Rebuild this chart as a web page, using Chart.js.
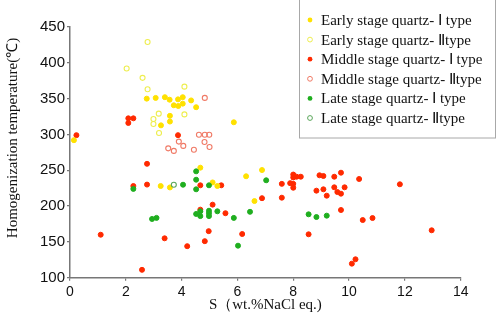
<!DOCTYPE html>
<html><head><meta charset="utf-8">
<script src="https://cdn.jsdelivr.net/npm/chart.js@4"></script>
<style>html,body{margin:0;padding:0;background:#fff}#wrap{width:498px;height:316px;position:relative}</style>
</head><body><div id="wrap"><canvas id="c"></canvas></div>
<script>
const xTicks = [0, 2, 4, 6, 8, 10, 12, 14];
const yTicks = [100, 150, 200, 250, 300, 350, 400, 450];
const xTitle = "S（wt.%NaCl eq.)";
const yTitle = "Homogenization temperature(℃)";
const seriesLabels = [
  "Early stage quartz- Ⅰ type",
  "Early stage quartz- Ⅱtype",
  "Middle stage quartz- Ⅰ type",
  "Middle stage quartz- Ⅱtype",
  "Late stage quartz- Ⅰ type",
  "Late stage quartz- Ⅱtype"
];

const earlyI_S = [2.75,3.07,3.4,3.57,3.87,4.04,3.72,3.88,4.04,4.34,4.52,3.58,3.58,3.26,5.87,0.14,4.67,3.25,3.58,5.11,5.28,6.31,6.61,6.88];
const earlyI_T = [350,351,352,348.5,349,352,340.7,339.7,343,347.5,338,326,318,312.7,317,292,253.6,228,226,233,228,241.6,207,250.3];

const earlyII_S = [2.78,2.03,2.6,2.78,4.1,3.18,2.99,2.99,3.19,4.1];
const earlyII_T = [429,392,379,363,366.7,329,321.5,314.6,302,328];

const middleI_S = [0.23,2.09,2.27,2.09,3.87,2.76,2.27,2.76,4.67,5.42,5.11,4.67,5.57,1.1,3.39,4.2,4.83,4.97,6.17,2.58,6.88,8.0,8.0,8.12,8.27,7.59,7.89,8.0,8.0,7.59,8.94,9.08,9.47,9.71,10.36,11.82,8.83,9.08,9.2,9.47,9.84,9.58,9.71,9.71,10.49,10.84,12.96,8.55,10.23,10.1];
const middleI_T = [299,322.5,322.5,316,299,259,228,230,229,229,202,195,190,160,155,144,151,165,161,111,211,244,240,241,241,231,232,231,225.6,211.7,243,242,241,246.6,237.8,230.4,221.5,223.4,214.5,226.2,226.2,219.6,217.3,194.5,180.5,183.3,166.2,160.6,125.7,119.6];

const middleII_S = [4.83,4.62,4.83,4.99,3.9,4.82,4.06,5.0,3.52,3.72,4.44];
const middleII_T = [351,299.6,299.6,299.6,290,289.5,284,282.5,280.6,277,278.7];

const lateI_S = [4.52,4.52,4.52,2.27,4.05,4.98,4.52,4.67,4.67,4.98,4.98,4.98,5.28,5.87,6.45,2.94,3.1,6.02,7.03,8.55,8.83,9.2];
const lateI_T = [248.5,236.8,223.4,224,229.8,229,189,186,192.7,193.5,190,186,192.7,183.5,192,182,183.5,144.7,236,188.5,184.7,186.6];

const lateII_S = [3.72];
const lateII_T = [229.8];

const pts = (xs, ys) => xs.map((x, i) => ({x: x, y: ys[i]}));

const filled = (label, data, color, order) => ({
  label, data, order,
  pointRadius: 2.5, pointHoverRadius: 2.5, borderWidth: 1,
  backgroundColor: color, borderColor: color, pointStyle: 'circle'
});
const hollow = (label, data, color, order) => ({
  label, data, order,
  pointRadius: 2.5, pointHoverRadius: 2.5, borderWidth: 1.1,
  backgroundColor: 'rgba(255,255,255,0)', borderColor: color, pointStyle: 'circle',
  hollow: true
});

const datasets = [
  filled(seriesLabels[0], pts(earlyI_S, earlyI_T), '#FFE100', 1),
  hollow(seriesLabels[1], pts(earlyII_S, earlyII_T), '#EEEE50', 1),
  filled(seriesLabels[2], pts(middleI_S, middleI_T), '#FF2A00', 2),
  hollow(seriesLabels[3], pts(middleII_S, middleII_T), '#F07A66', 2),
  filled(seriesLabels[4], pts(lateI_S, lateI_T), '#1FAE1F', 0),
  hollow(seriesLabels[5], pts(lateII_S, lateII_T), '#5AA65A', 0)
];

const boxLegend = {
  id: 'boxLegend',
  afterDraw(chart) {
    const ctx = chart.ctx;
    ctx.save();
    ctx.translate(13, 138);
    ctx.rotate(-Math.PI / 2);
    ctx.fillStyle = '#111';
    ctx.font = '15px "Liberation Serif"';
    ctx.textAlign = 'center';
    ctx.textBaseline = 'middle';
    ctx.fillText(yTitle, 0, 0);
    ctx.restore();

    ctx.save();
    ctx.fillStyle = '#fff';
    ctx.fillRect(299.5, -2, 196, 140);
    ctx.strokeStyle = '#a8a8a8';
    ctx.lineWidth = 1;
    ctx.strokeRect(299.5, -2, 196, 140);
    chart.data.datasets.forEach((ds, i) => {
      const y = 20 + i * 19.6;
      ctx.beginPath();
      ctx.arc(310, y, 2.4, 0, Math.PI * 2);
      if (ds.hollow) {
        ctx.strokeStyle = ds.borderColor; ctx.lineWidth = 1; ctx.stroke();
      } else {
        ctx.fillStyle = ds.backgroundColor; ctx.fill();
      }
      ctx.fillStyle = '#111';
      ctx.font = '15px "Liberation Serif"';
      ctx.textAlign = 'left';
      ctx.textBaseline = 'middle';
      ctx.fillText(ds.label, 321, y + 1);
    });
    ctx.restore();
  }
};

new Chart(document.getElementById('c'), {
  type: 'scatter',
  data: { datasets },
  plugins: [boxLegend],
  options: {
    responsive: true, maintainAspectRatio: false, animation: false, devicePixelRatio: 1,
    layout: { padding: { top: 27, right: 37.3, left: 0, bottom: 0 } },
    plugins: { legend: { display: false }, tooltip: { enabled: false } },
    scales: {
      x: {
        type: 'linear', min: xTicks[0], max: xTicks[xTicks.length - 1],
        afterBuildTicks: s => { s.ticks = xTicks.map(v => ({ value: v })); },
        afterFit: s => { s.height = 38.3; },
        border: { display: true, color: '#777', width: 1.5 },
        grid: { drawOnChartArea: false, drawTicks: true, tickLength: 3, color: '#777', lineWidth: 1.2 },
        ticks: { color: '#111', font: { family: '"Liberation Sans"', size: 14 }, padding: 3, maxRotation: 0 },
        title: { display: true, text: xTitle, color: '#111', font: { family: '"Liberation Serif"', size: 15 }, padding: { top: 2, bottom: 2 } }
      },
      y: {
        type: 'linear', min: yTicks[0], max: yTicks[yTicks.length - 1],
        afterBuildTicks: s => { s.ticks = yTicks.map(v => ({ value: v })); },
        afterFit: s => { s.width = 70; },
        border: { display: true, color: '#777', width: 1.5 },
        grid: { drawOnChartArea: false, drawTicks: true, tickLength: 3, color: '#777', lineWidth: 1.2 },
        ticks: { color: '#111', font: { family: '"Liberation Sans"', size: 15 }, padding: 2 },
        title: { display: false }
      }
    }
  }
});
</script>
</body></html>
